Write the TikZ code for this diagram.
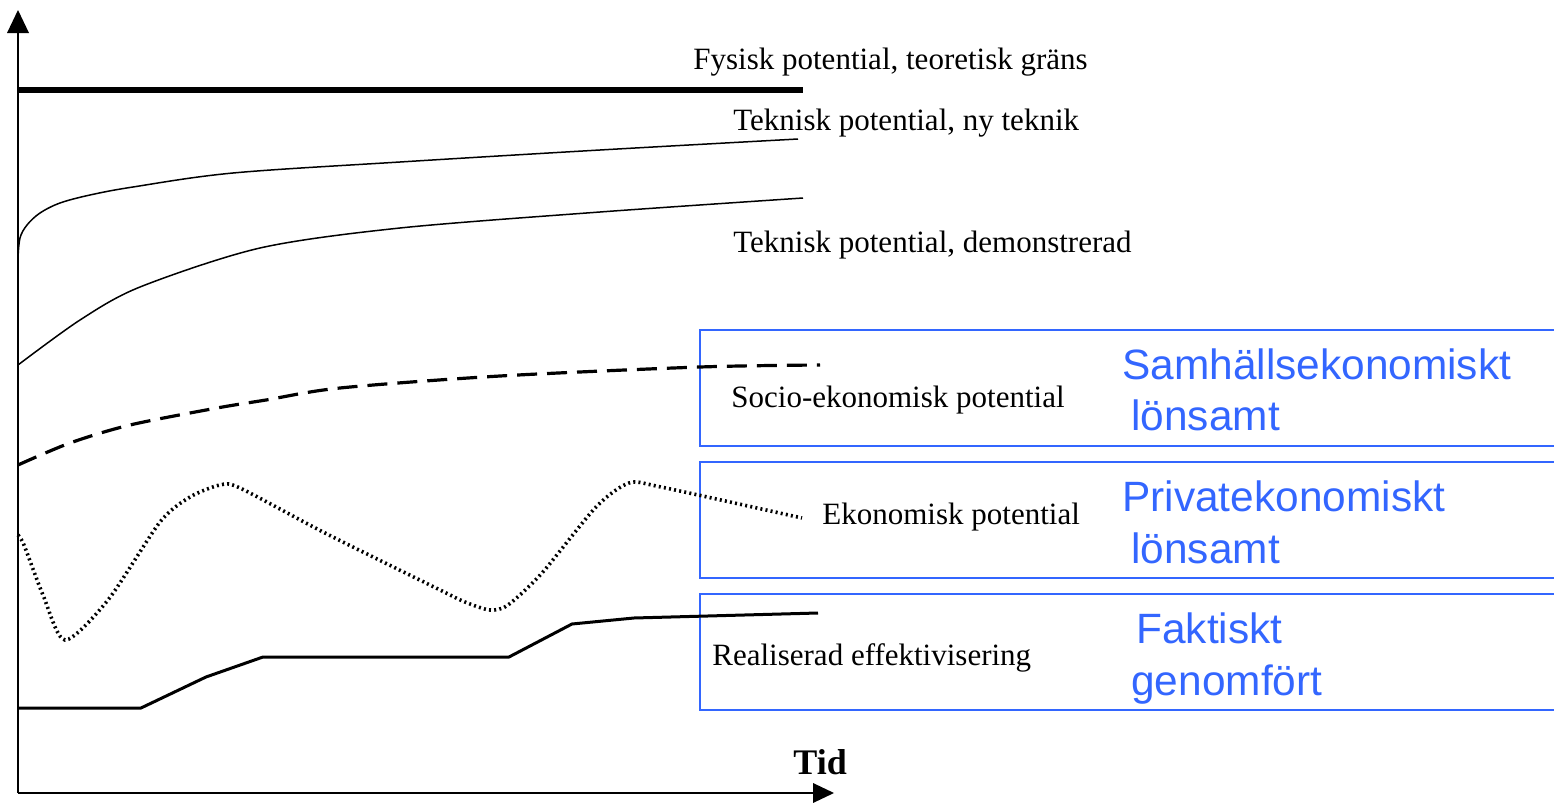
\documentclass[tikz,border=0pt]{standalone}
\usepackage{fontspec}
\setmainfont{Liberation Serif}
\newfontfamily\arialfont{Liberation Sans}
\definecolor{boxblue}{RGB}{51,102,255}
\begin{document}
\begin{tikzpicture}[x=0.5pt,y=-0.5pt,
  lbl/.style={anchor=base west,inner sep=0pt,font=\fontsize{15.5}{18}\selectfont},
  bluelbl/.style={anchor=base west,inner sep=0pt,text=boxblue,font=\arialfont\fontsize{21.2}{24}\selectfont},
  axisline/.style={line width=1pt},
  bandbox/.style={draw=boxblue,line width=1.2pt},
  thincurve/.style={line width=0.75pt},
  lc/.style={line cap=butt,line join=round}]
\useasboundingbox (0,0) rectangle (1554,803);
% axes
\coordinate (O) at (18,793);
\coordinate (ytip) at (18,10);
\coordinate (xtip) at (834,793);
\draw[axisline] (O) -- (18,32);
\fill (ytip) -- (7,33) -- (29,33) -- cycle;
\draw[axisline] (O) -- (814,793);
\fill (xtip) -- (813,783) -- (813,803) -- cycle;
% boxes
\draw[bandbox] (1560,330) -- (700,330) -- (700,446) -- (1560,446);
\draw[bandbox] (1560,462) -- (700,462) -- (700,578) -- (1560,578);
\draw[bandbox] (1560,594) -- (700,594) -- (700,710) -- (1560,710);
% curves
\draw[line width=3pt] (18,90) -- (803,90);
\draw[thincurve] plot[smooth,tension=0.55] coordinates {(18,258) (20,238) (27,225) (40,213) (60,203) (90,195) (133,187) (233,173) (400,162) (600,150) (798,139)};
\draw[thincurve] plot[smooth,tension=0.5] coordinates {(18,365) (80,320) (140,287) (260,248) (400,228) (600,212) (803,198)};
\draw[line width=1.6pt,dash pattern=on 10pt off 5pt] plot[smooth,tension=0.5] coordinates {(18,465) (70,443) (130,425) (217,408) (266,400) (340,388) (500,376) (700,367) (820,365)};
\draw[line width=1.8pt,dash pattern=on 1pt off 1.6pt] plot[smooth,tension=0.45] coordinates {(18,535) (24,545) (43,595) (65,640) (108,600) (160,522) (190,497) (220,485) (240,488) (325,533) (434,587) (465,602) (490,610) (508,605) (542,573) (596,507) (629,483) (661,487) (802,518)};
\draw[line width=1.5pt,lc] (18,708) -- (141,708) -- (206,677) -- (263,657) -- (509,657) -- (572,624) -- (634,618) -- (818,613);
% labels
\node[lbl] (l1) at (693,69) {Fysisk potential, teoretisk gräns};
\node[lbl] (l2) at (733,130) {Teknisk potential, ny teknik};
\node[lbl] (l3) at (733,252) {Teknisk potential, demonstrerad};
\node[lbl] (l4) at (731,407) {Socio-ekonomisk potential};
\node[lbl] (l5) at (822,524) {Ekonomisk potential};
\node[lbl] (l6) at (712,665) {Realiserad effektivisering};
\node[anchor=base west,inner sep=0pt,font=\bfseries\fontsize{18}{20}\selectfont] (tid) at (793,774) {Tid};
\node[bluelbl] (b1) at (1122,379) {Samhällsekonomiskt};
\node[bluelbl] (b1b) at (1131,430) {lönsamt};
\node[bluelbl] (b2) at (1122,511) {Privatekonomiskt};
\node[bluelbl] (b2b) at (1131,563) {lönsamt};
\node[bluelbl] (b3) at (1136,643) {Faktiskt};
\node[bluelbl] (b3b) at (1131,695) {genomfört};
\end{tikzpicture}
\end{document}
